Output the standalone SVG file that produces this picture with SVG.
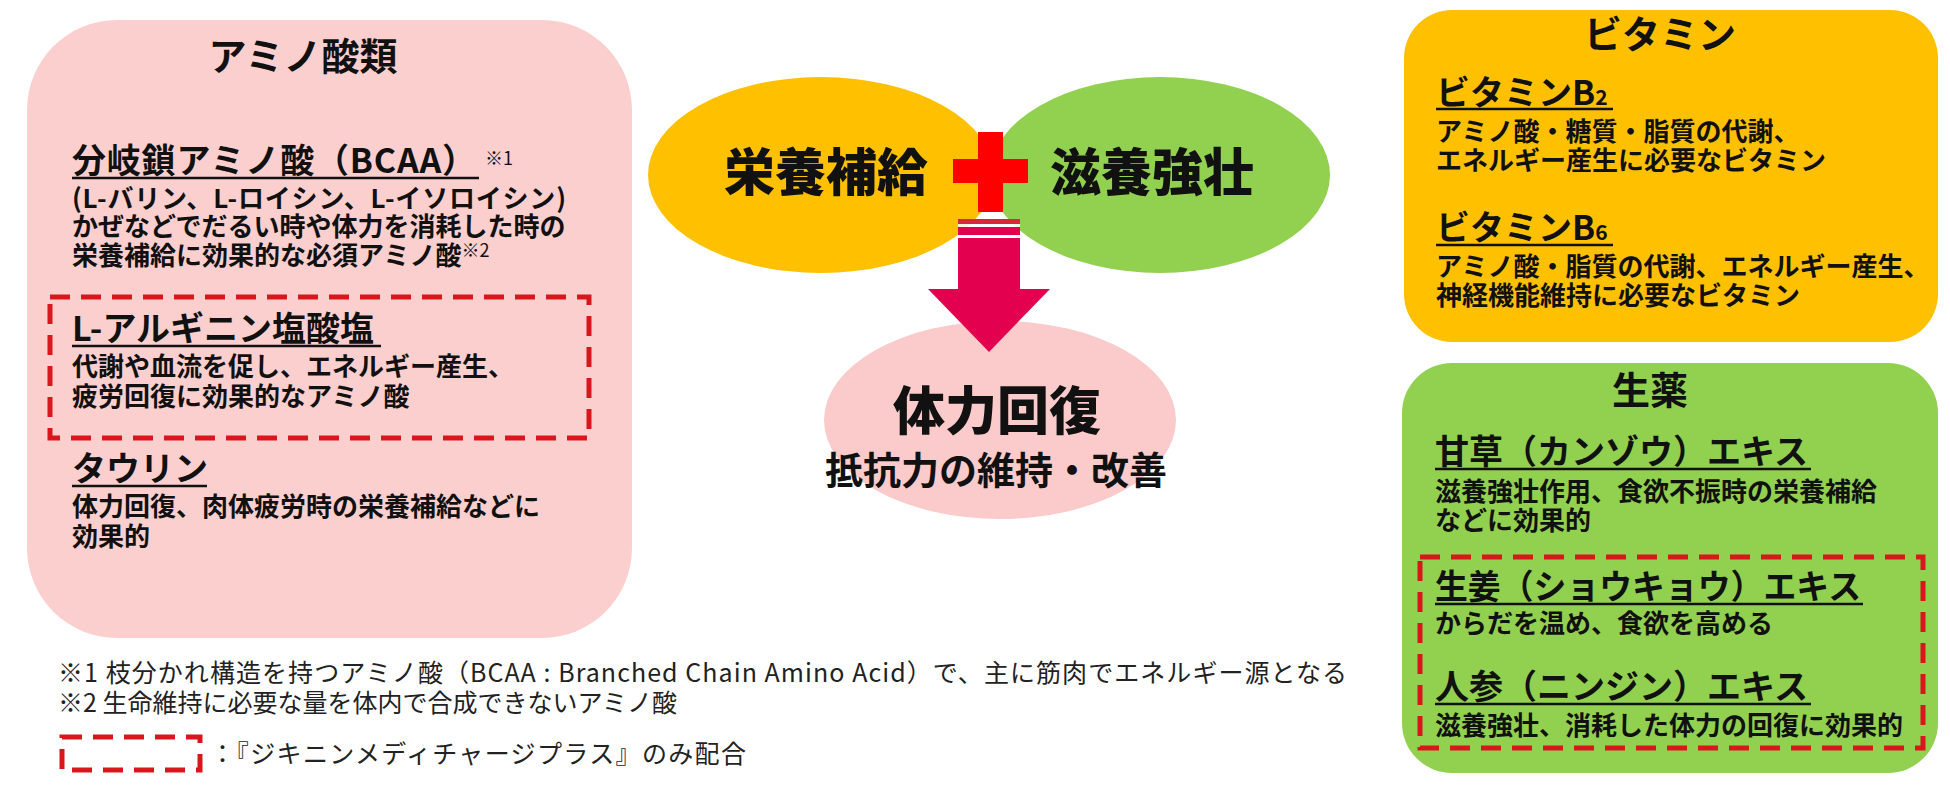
<svg xmlns="http://www.w3.org/2000/svg" width="1950" height="796" viewBox="0 0 1950 796">
<style>
text{font-family:'Noto Sans CJK JP','Noto Sans',sans-serif;fill:#111}
.title{font-size:38px;font-weight:700}
.head{font-size:34px;font-weight:700}
.body{font-size:26px;font-weight:700}
.sup{font-size:18px;font-weight:400}
.big{font-size:51px;font-weight:900}
.sub{font-size:38px;font-weight:700}
.fn{font-size:25px;font-weight:400;fill:#222}
.dash{fill:none;stroke:#d9161c;stroke-width:5;stroke-dasharray:20 11}
.ul{stroke:#111;stroke-width:2.5}
</style>
<rect width="1950" height="796" fill="#fff"/>

<g id="amino">
<rect x="27" y="20" width="605" height="618" rx="90" fill="#fccfcf"/>
<text class="title" x="303" y="70" text-anchor="middle">アミノ酸類</text>
<text class="head" x="72" y="173" textLength="404" lengthAdjust="spacing">分岐鎖アミノ酸（BCAA）</text>
<line class="ul" x1="72" y1="178" x2="479" y2="178"/>
<text class="sup" x="485" y="165">※1</text>
<text class="body" x="72" y="208" textLength="494" lengthAdjust="spacing">(L-バリン、L-ロイシン、L-イソロイシン)</text>
<text class="body" x="72" y="236">かぜなどでだるい時や体力を消耗した時の</text>
<text class="body" x="72" y="265">栄養補給に効果的な必須アミノ酸<tspan class="sup" dy="-8">※2</tspan></text>
<rect class="dash" x="50" y="297" width="539" height="141"/>
<text class="head" x="72" y="341">L-アルギニン塩酸塩</text>
<line class="ul" x1="72" y1="346" x2="381" y2="346"/>
<text class="body" x="72" y="376">代謝や血流を促し、エネルギー産生、</text>
<text class="body" x="72" y="406">疲労回復に効果的なアミノ酸</text>
<text class="head" x="72" y="481">タウリン</text>
<line class="ul" x1="72" y1="486" x2="207" y2="486"/>
<text class="body" x="72" y="516">体力回復、肉体疲労時の栄養補給などに</text>
<text class="body" x="72" y="546">効果的</text>
</g>

<g id="eiyou">
<ellipse cx="821" cy="175" rx="173" ry="98" fill="#ffc000"/>
<text class="big" x="826" y="191" text-anchor="middle">栄養補給</text>
</g>
<g id="jiyou">
<ellipse cx="1160" cy="175" rx="170" ry="98" fill="#92d050"/>
<text class="big" x="1152" y="191" text-anchor="middle">滋養強壮</text>
</g>
<g id="plus">
<rect x="978" y="132" width="25" height="80" fill="#ff0000"/>
<rect x="953" y="159" width="75" height="24" fill="#ff0000"/>
</g>
<g id="kaifuku">
<ellipse cx="1000" cy="420" rx="176" ry="99" fill="#fbcaca"/>
<text class="big" x="997" y="430" text-anchor="middle" style="font-size:52px">体力回復</text>
<text class="sub" x="996" y="484" text-anchor="middle">抵抗力の維持・改善</text>
</g>

<g id="connectors">
<rect x="958" y="219" width="62" height="19" fill="#fff" opacity="0.85"/>
<rect x="958" y="219" width="62" height="5" fill="#d8283a"/>
<rect x="958" y="227" width="62" height="8" fill="#e3004f"/>
<path d="M958,238 H1020 V289 H1050 L989,352 L928,289 H958 Z" fill="#e3004f"/>
</g>

<g id="vitamin">
<rect x="1404" y="10" width="534" height="332" rx="48" fill="#ffc000"/>
<text class="title" x="1660" y="48" text-anchor="middle">ビタミン</text>
<text class="head" x="1436" y="105">ビタミンB<tspan style="font-size:21px">2</tspan></text>
<line class="ul" x1="1436" y1="109" x2="1613" y2="109"/>
<text class="body" x="1436" y="141">アミノ酸・糖質・脂質の代謝、</text>
<text class="body" x="1436" y="170">エネルギー産生に必要なビタミン</text>
<text class="head" x="1436" y="240">ビタミンB<tspan style="font-size:21px">6</tspan></text>
<line class="ul" x1="1436" y1="245" x2="1613" y2="245"/>
<text class="body" x="1436" y="276">アミノ酸・脂質の代謝、エネルギー産生、</text>
<text class="body" x="1436" y="305">神経機能維持に必要なビタミン</text>
</g>

<g id="shoyaku">
<rect x="1402" y="363" width="536" height="410" rx="50" fill="#92d050"/>
<text class="title" x="1650" y="404" text-anchor="middle">生薬</text>
<text class="head" x="1435" y="464">甘草（カンゾウ）エキス</text>
<line class="ul" x1="1435" y1="469" x2="1811" y2="469"/>
<text class="body" x="1435" y="501">滋養強壮作用、食欲不振時の栄養補給</text>
<text class="body" x="1435" y="530">などに効果的</text>
<rect class="dash" x="1420" y="557" width="503" height="191"/>
<text class="head" x="1435" y="599" textLength="426" lengthAdjust="spacingAndGlyphs">生姜（ショウキョウ）エキス</text>
<line class="ul" x1="1435" y1="604" x2="1863" y2="604"/>
<text class="body" x="1435" y="633">からだを温め、食欲を高める</text>
<text class="head" x="1435" y="699">人参（ニンジン）エキス</text>
<line class="ul" x1="1435" y1="704" x2="1811" y2="704"/>
<text class="body" x="1435" y="735">滋養強壮、消耗した体力の回復に効果的</text>
</g>

<g id="footnotes">
<text class="fn" x="58" y="682" textLength="1289" lengthAdjust="spacing">※1 枝分かれ構造を持つアミノ酸（BCAA : Branched Chain Amino Acid）で、主に筋肉でエネルギー源となる</text>
<text class="fn" x="58" y="712">※2 生命維持に必要な量を体内で合成できないアミノ酸</text>
<rect class="dash" x="62" y="737" width="138" height="33"/>
<text class="fn" x="210" y="763" textLength="536" lengthAdjust="spacing">：『ジキニンメディチャージプラス』のみ配合</text>
</g>
</svg>
